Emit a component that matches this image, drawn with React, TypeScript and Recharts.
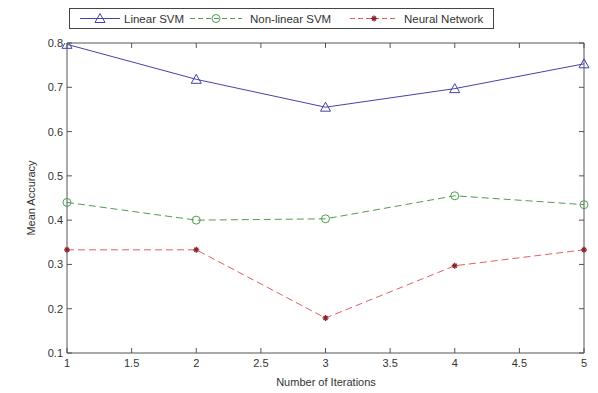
import {
  LineChart,
  Line,
  XAxis,
  YAxis,
} from "recharts";

const iterations = [1, 2, 3, 4, 5];
const linearSvm = [0.797, 0.718, 0.655, 0.697, 0.753];
const nonLinearSvm = [0.44, 0.4, 0.403, 0.455, 0.435];
const neuralNetwork = [0.333, 0.333, 0.179, 0.297, 0.333];

const xTicks = [1, 1.5, 2, 2.5, 3, 3.5, 4, 4.5, 5];
const yTicks = [0.1, 0.2, 0.3, 0.4, 0.5, 0.6, 0.7, 0.8];

const data = iterations.map((it, i) => ({
  it,
  linear: linearSvm[i],
  nonlinear: nonLinearSvm[i],
  neural: neuralNetwork[i],
}));

const BLUE = "#4444a8";
const GREEN = "#4f9d4f";
const RED = "#e06060";
const FONT = "'Liberation Sans', Arial, sans-serif";
const TXT = "#333";

const Triangle = ({ cx, cy }: any) =>
  cx == null ? null : (
    <polygon
      points={`${cx},${cy - 5} ${cx - 5},${cy + 4} ${cx + 5},${cy + 4}`}
      fill="none"
      stroke={BLUE}
      strokeWidth={1}
    />
  );

const Circle = ({ cx, cy }: any) =>
  cx == null ? null : (
    <circle cx={cx} cy={cy} r={4} fill="none" stroke={GREEN} strokeWidth={1} />
  );

const Star = ({ cx, cy }: any) =>
  cx == null ? null : (
    <g stroke="#8a1f2a" strokeWidth={1.3}>
      <line x1={cx - 3} y1={cy} x2={cx + 3} y2={cy} />
      <line x1={cx} y1={cy - 3} x2={cx} y2={cy + 3} />
      <line x1={cx - 2} y1={cy - 2} x2={cx + 2} y2={cy + 2} />
      <line x1={cx - 2} y1={cy + 2} x2={cx + 2} y2={cy - 2} />
    </g>
  );

const BottomTick = ({ x, y, payload }: any) => (
  <g>
    <line x1={x} y1={y} x2={x} y2={y - 5} stroke="#555" />
    <text x={x} y={y + 14} textAnchor="middle" fontSize={11} fill={TXT} fontFamily={FONT}>
      {payload.value}
    </text>
  </g>
);

const TopTick = ({ x, y }: any) => (
  <line x1={x} y1={y} x2={x} y2={y + 5} stroke="#555" />
);

const LeftTick = ({ x, y, payload }: any) => (
  <g>
    <line x1={x} y1={y} x2={x + 5} y2={y} stroke="#555" />
    <text x={x - 4} y={y + 4} textAnchor="end" fontSize={11} fill={TXT} fontFamily={FONT}>
      {payload.value.toFixed(1)}
    </text>
  </g>
);

const RightTick = ({ x, y }: any) => (
  <line x1={x} y1={y} x2={x - 5} y2={y} stroke="#555" />
);

// legend entries: sample start/end and label x, relative to the page
const legendItems = [
  { name: "Linear SVM", color: BLUE, dash: undefined, Mark: Triangle, x0: 80, x1: 120, tx: 124 },
  { name: "Non-linear SVM", color: GREEN, dash: "5 3", Mark: Circle, x0: 190, x1: 242, tx: 250 },
  { name: "Neural Network", color: RED, dash: "5 3", Mark: Star, x0: 350, x1: 398, tx: 404 },
];

const LegendBox = () => (
  <svg
    width={598}
    height={40}
    style={{ position: "absolute", left: 0, top: 0 }}
  >
    <rect x={69.5} y={8.5} width={424} height={20} fill="#fff" stroke="#444" />
    {legendItems.map(({ name, color, dash, Mark, x0, x1, tx }) => (
      <g key={name}>
        <line x1={x0} y1={18.5} x2={x1} y2={18.5} stroke={color} strokeDasharray={dash} />
        <Mark cx={(x0 + x1) / 2} cy={18.5} />
        <text x={tx} y={22.5} fontSize={11.5} fill={TXT} fontFamily={FONT}>
          {name}
        </text>
      </g>
    ))}
  </svg>
);

export default function App() {
  return (
    <div style={{ position: "absolute", left: 0, top: 0, width: 598, height: 393, background: "#fff" }}>
      <LineChart
        width={598}
        height={393}
        data={data}
        margin={{ top: 42, right: 13, bottom: 15, left: 27 }}
      >
        <XAxis
          xAxisId="bottom"
          dataKey="it"
          type="number"
          domain={[1, 5]}
          ticks={xTicks}
          tickSize={0}
          tickMargin={0}
          tickLine={false}
          tick={<BottomTick />}
          axisLine={{ stroke: "#555" }}
          height={25}
        />
        <XAxis
          xAxisId="top"
          orientation="top"
          dataKey="it"
          type="number"
          domain={[1, 5]}
          ticks={xTicks}
          tickSize={0}
          tickMargin={0}
          tickLine={false}
          tick={<TopTick />}
          axisLine={{ stroke: "#555" }}
          height={1}
        />
        <YAxis
          yAxisId="left"
          type="number"
          domain={[0.1, 0.8]}
          ticks={yTicks}
          tickSize={0}
          tickMargin={0}
          tickLine={false}
          tick={<LeftTick />}
          axisLine={{ stroke: "#555" }}
          width={40}
          allowDataOverflow
        />
        <YAxis
          yAxisId="right"
          orientation="right"
          type="number"
          domain={[0.1, 0.8]}
          ticks={yTicks}
          tickSize={0}
          tickMargin={0}
          tickLine={false}
          tick={<RightTick />}
          axisLine={{ stroke: "#555" }}
          width={1}
          allowDataOverflow
        />
        <Line
          xAxisId="top"
          yAxisId="right"
          dataKey="linear"
          stroke="none"
          dot={false}
          activeDot={false}
          legendType="none"
          isAnimationActive={false}
        />
        <Line
          xAxisId="bottom"
          yAxisId="left"
          dataKey="linear"
          name="Linear SVM"
          type="linear"
          stroke={BLUE}
          strokeWidth={1}
          dot={<Triangle />}
          activeDot={false}
          isAnimationActive={false}
        />
        <Line
          xAxisId="bottom"
          yAxisId="left"
          dataKey="nonlinear"
          name="Non-linear SVM"
          type="linear"
          stroke={GREEN}
          strokeWidth={1}
          strokeDasharray="7 4"
          dot={<Circle />}
          activeDot={false}
          isAnimationActive={false}
        />
        <Line
          xAxisId="bottom"
          yAxisId="left"
          dataKey="neural"
          name="Neural Network"
          type="linear"
          stroke={RED}
          strokeWidth={1}
          strokeDasharray="7 4"
          dot={<Star />}
          activeDot={false}
          isAnimationActive={false}
        />
      </LineChart>
      <LegendBox />
      <div
        style={{
          position: "absolute",
          left: 0,
          top: 376,
          width: 598,
          paddingLeft: 54,
          boxSizing: "border-box",
          textAlign: "center",
          fontFamily: FONT,
          fontSize: 11,
          color: TXT,
        }}
      >
        Number of Iterations
      </div>
      <div
        style={{
          position: "absolute",
          left: 31,
          top: 198,
          transform: "translate(-50%, -50%) rotate(-90deg)",
          whiteSpace: "nowrap",
          fontFamily: FONT,
          fontSize: 11,
          color: TXT,
        }}
      >
        Mean Accuracy
      </div>
    </div>
  );
}
